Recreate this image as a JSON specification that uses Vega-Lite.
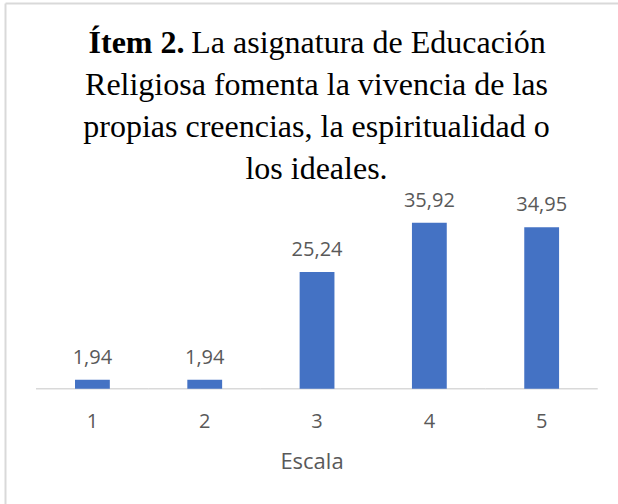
{
  "$schema": "https://vega.github.io/schema/vega-lite/v6.json",
  "width": 613,
  "height": 501,
  "autosize": "none",
  "padding": {"left": 5, "top": 3, "right": 0, "bottom": 0},
  "background": "white",
  "config": {"view": {"stroke": null}},
  "title": {
    "text": "Ítem 2.\u00a0\u00a0\u00a0\u00a0\u00a0\u00a0\u00a0\u00a0\u00a0\u00a0\u00a0\u00a0\u00a0\u00a0\u00a0\u00a0\u00a0\u00a0\u00a0\u00a0\u00a0\u00a0\u00a0\u00a0\u00a0\u00a0\u00a0\u00a0\u00a0\u00a0\u00a0\u00a0\u00a0\u00a0\u00a0\u00a0\u00a0\u00a0\u00a0\u00a0\u00a0\u00a0\u00a0\u00a0\u00a0\u200b",
    "subtitle": [
      "\u200b\u00a0\u00a0\u00a0\u00a0\u00a0\u00a0\u00a0\u00a0\u00a0\u00a0\u00a0\u00a0\u00a0La asignatura de Educación",
      "Religiosa fomenta la vivencia de las",
      "propias creencias, la espiritualidad o",
      "los ideales."
    ],
    "font": "Liberation Serif",
    "fontSize": 32,
    "fontWeight": "bold",
    "color": "#000000",
    "subtitleFont": "Liberation Serif",
    "subtitleFontSize": 32,
    "subtitleFontWeight": "normal",
    "subtitleColor": "#000000",
    "subtitleLineHeight": 42,
    "subtitlePadding": -32,
    "anchor": "middle",
    "frame": "group",
    "offset": 0,
    "dx": 5,
    "dy": 183
  },
  "data": {
    "values": [
      {"Escala": "1", "Porcentaje": 1.94, "Etiqueta": "1,94"},
      {"Escala": "2", "Porcentaje": 1.94, "Etiqueta": "1,94"},
      {"Escala": "3", "Porcentaje": 25.24, "Etiqueta": "25,24"},
      {"Escala": "4", "Porcentaje": 35.92, "Etiqueta": "35,92"},
      {"Escala": "5", "Porcentaje": 34.95, "Etiqueta": "34,95"}
    ]
  },
  "encoding": {
    "x": {
      "field": "Escala",
      "type": "ordinal",
      "scale": {"paddingInner": 0.69, "paddingOuter": 0.574, "align": 0.543},
      "axis": {
        "title": "Escala",
        "labelAngle": 0,
        "domain": false,
        "ticks": false,
        "tickSize": 0,
        "labelPadding": 22.7,
        "labelFont": "Open Sans",
        "labelFontSize": 20,
        "labelColor": "#595959",
        "titleFont": "Open Sans",
        "titleFontSize": 22,
        "titleFontWeight": "normal",
        "titleColor": "#595959",
        "titlePadding": 20,
        "offset": -115.3
      }
    }
  },
  "layer": [
    {
      "mark": {"type": "rule", "color": "#d9d9d9", "strokeWidth": 1.5},
      "encoding": {
        "x": {"field": "Escala", "type": "ordinal", "bandPosition": -1.12},
        "x2": {"field": "Escala", "bandPosition": 2.11},
        "y": {"datum": 0, "type": "quantitative"}
      }
    },
    {
      "mark": {"type": "bar", "color": "#4472C4"},
      "encoding": {
        "y": {
          "field": "Porcentaje",
          "type": "quantitative",
          "scale": {"domain": [-24.96, 83.48], "nice": false, "zero": false},
          "axis": {
            "title": null,
            "labels": false,
            "ticks": false,
            "domain": true,
            "domainColor": "#d9d9d9",
            "domainWidth": 2,
            "grid": true,
            "gridColor": "#d9d9d9",
            "gridWidth": 2,
            "values": [83.48]
          }
        },
        "y2": {"datum": 0}
      }
    },
    {
      "mark": {
        "type": "text",
        "baseline": "alphabetic",
        "dy": -16,
        "font": "Open Sans",
        "fontSize": 20,
        "color": "#595959"
      },
      "encoding": {
        "y": {"field": "Porcentaje", "type": "quantitative"},
        "text": {"field": "Etiqueta"}
      }
    }
  ]
}
